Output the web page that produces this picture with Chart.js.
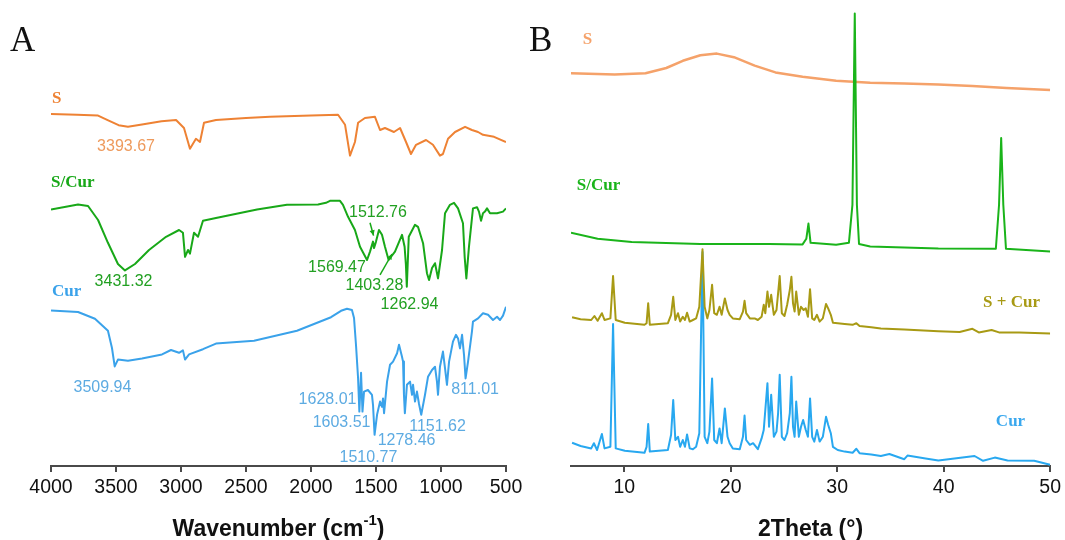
<!DOCTYPE html>
<html>
<head>
<meta charset="utf-8">
<script src="https://cdn.jsdelivr.net/npm/chart.js@4"></script>
<style>
  html, body { margin: 0; padding: 0; background: #fff; }
  #wrap { position: relative; width: 1065px; height: 540px; overflow: hidden; }
  canvas { position: absolute; top: 0; }
  #ftirChart { left: 0; }
  #xrdChart { left: 530px; }
  .panel { position: absolute; top: 22px; font: 35px 'Liberation Serif', serif; line-height: 1; color: #111; }
</style>
</head>
<body>
<div id="wrap">
  <canvas id="ftirChart" width="530" height="540"></canvas>
  <canvas id="xrdChart" width="535" height="540"></canvas>
  <div class="panel" style="left:10px">A</div>
  <div class="panel" style="left:529px">B</div>
</div>
<script>
// 刻度
const ftirTicks = [4000, 3500, 3000, 2500, 2000, 1500, 1000, 500];
const xrdTicks = [10, 20, 30, 40, 50];

// FTIR 光谱 [波数, 强度(a.u., 含偏移)]
const ftirS = [
  [4000,88.0],[3800,87.8],[3638,87.6],[3560,86.4],[3480,85.2],[3408,84.8],[3300,85.4],[3150,86.2],
  [3038,86.5],[2977,84.5],[2931,79.3],[2885,81.8],[2854,81.0],[2823,85.8],[2731,86.5],[2500,87.0],
  [2315,87.3],[2000,87.6],[1792,87.8],[1738,85.3],[1700,77.6],[1662,81.0],[1638,85.8],[1585,87.0],
  [1508,87.3],[1469,84.0],[1431,84.5],[1362,83.5],[1315,84.5],[1269,81.0],[1231,78.0],[1192,80.3],
  [1115,81.5],[1062,80.3],[1008,77.6],[985,78.0],[946,81.8],[892,83.5],[815,84.8],[762,84.0],
  [715,83.5],[677,82.8],[592,82.3],[500,81.0]
];
const ftirSCur = [
  [4000,64.1],[3792,65.4],[3715,65.0],[3638,61.5],[3562,55.8],[3485,50.5],[3431,48.9],[3354,50.5],
  [3246,54.0],[3115,57.3],[3015,59.0],[2985,58.3],[2969,52.3],[2946,54.0],[2931,53.1],[2900,58.3],
  [2869,57.3],[2831,61.3],[2731,62.0],[2415,64.1],[2185,65.3],[1946,65.4],[1885,65.8],[1854,66.3],
  [1777,66.3],[1754,65.3],[1715,62.3],[1662,59.0],[1623,54.8],[1569,51.5],[1546,53.6],[1523,56.1],
  [1515,54.5],[1500,56.1],[1477,59.0],[1454,57.8],[1431,54.8],[1403,51.5],[1354,53.6],[1300,57.8],
  [1280,54.8],[1270,50.3],[1263,44.8],[1248,57.3],[1200,60.3],[1177,59.8],[1138,55.7],[1108,48.2],
  [1092,46.5],[1069,49.5],[1046,50.7],[1023,46.9],[992,54.0],[969,63.2],[931,65.3],[900,65.8],
  [869,64.4],[831,60.7],[818,52.3],[805,46.9],[785,54.8],[754,64.4],[723,64.7],[708,63.6],
  [692,61.3],[677,63.2],[662,63.6],[646,64.4],[623,63.2],[569,63.2],[523,63.6],[500,64.4]
];
const ftirCur = [
  [4000,38.9],[3792,38.5],[3662,36.8],[3562,33.8],[3531,29.5],[3510,24.9],[3485,26.6],[3408,26.3],
  [3300,26.9],[3146,27.9],[3077,29.0],[3015,28.3],[2985,28.9],[2969,26.6],[2938,27.9],[2831,29.2],
  [2731,30.6],[2438,31.3],[2108,33.8],[1846,37.2],[1769,38.8],[1723,39.3],[1685,39.0],[1669,37.0],
  [1654,30.3],[1638,22.0],[1628,13.6],[1615,23.3],[1604,13.6],[1592,18.6],[1562,19.0],[1531,17.8],
  [1523,15.3],[1511,7.8],[1492,12.8],[1469,16.1],[1454,14.8],[1446,16.9],[1438,13.2],[1415,21.1],
  [1392,25.3],[1369,26.1],[1338,28.2],[1323,30.3],[1300,27.3],[1292,26.1],[1285,17.8],[1278,13.2],
  [1262,20.3],[1238,21.1],[1223,17.8],[1215,20.3],[1200,16.1],[1185,18.6],[1169,15.5],[1152,12.8],
  [1123,17.8],[1100,22.3],[1069,24.0],[1046,24.8],[1031,21.1],[1023,17.8],[1008,24.8],[985,28.6],
  [969,24.4],[954,20.3],[938,26.1],[908,31.1],[885,32.8],[869,31.9],[854,29.4],[838,32.8],
  [823,27.8],[811,21.9],[792,26.1],[762,33.6],[754,36.1],[715,36.9],[677,38.2],[638,37.8],
  [600,36.5],[569,37.3],[546,36.5],[523,37.6],[500,39.8]
];

// XRD 图谱 [2θ, 强度(a.u., 含偏移)]
const xrdS = [
  [5,98.2],[9.1,97.9],[12.0,98.2],[13.95,99.5],[15.5,101.3],[17.15,102.7],[18.7,103.1],[20.3,102.2],
  [22.25,100.1],[24.2,98.4],[26.75,97.3],[29.9,96.3],[33.1,95.8],[36.3,95.6],[39.5,95.4],[42.7,95.0],
  [45.9,94.5],[50,94.0]
];
const xrdSCur = [
  [5,58.3],[7.5,56.8],[10.7,56.0],[17.15,55.5],[23.6,55.5],[26.75,55.4],[27.1,56.8],[27.3,60.6],
  [27.5,55.8],[29.9,55.3],[31.1,55.8],[31.43,65.3],[31.65,113.1],[31.85,65.3],[32.05,55.5],[33.1,54.9],
  [39.5,54.4],[44.9,54.3],[45.2,65.3],[45.4,82.0],[45.6,65.3],[45.85,54.3],[50,53.6]
];
const xrdSPlusCur = [
  [5.1,37.2],[5.9,36.7],[6.9,36.5],[7.2,37.5],[7.5,36.3],[7.9,38.2],[8.15,36.5],[8.7,36.9],
  [8.95,47.5],[9.2,36.5],[10.05,35.8],[11.9,35.3],[12.1,35.7],[12.25,40.7],[12.4,35.3],[14.1,35.7],
  [14.4,37.8],[14.6,42.3],[14.8,36.5],[15.05,38.2],[15.25,36.1],[15.5,37.3],[15.7,36.5],[15.9,38.3],
  [16.15,36.1],[16.45,36.5],[16.75,36.9],[17.05,39.8],[17.35,54.2],[17.55,39.8],[17.8,36.9],[18.0,39.0],
  [18.25,45.3],[18.45,38.2],[18.7,37.8],[18.95,39.8],[19.15,37.8],[19.45,41.9],[19.7,39.0],[19.9,37.8],
  [20.2,36.9],[20.85,36.7],[21.15,38.6],[21.3,41.3],[21.45,38.2],[21.8,36.9],[22.25,36.9],[22.55,36.5],
  [22.9,37.3],[23.1,40.3],[23.25,38.2],[23.45,43.6],[23.6,39.8],[23.8,42.8],[24.05,37.8],[24.3,39.0],
  [24.45,43.2],[24.6,47.5],[24.8,38.2],[25.05,37.5],[25.3,40.3],[25.55,44.0],[25.7,47.3],[25.85,40.7],
  [26.0,38.6],[26.15,43.6],[26.4,37.8],[26.6,39.8],[26.85,39.0],[27.05,39.4],[27.25,37.3],[27.45,44.2],
  [27.65,36.9],[27.85,36.5],[28.1,37.8],[28.35,36.1],[28.65,36.9],[28.95,40.5],[29.15,39.4],[29.4,37.8],
  [29.6,35.8],[30.05,35.7],[30.7,35.5],[31.45,35.3],[31.8,35.7],[32.1,35.0],[33.2,34.7],[34.1,34.4],
  [36.3,34.1],[39.5,33.7],[41.5,33.5],[42.7,34.3],[43.3,33.4],[44.5,34.0],[45.2,33.4],[47.1,33.4],
  [50,33.1]
];
const xrdCur = [
  [5.1,5.8],[5.9,5.0],[6.9,4.4],[7.15,5.7],[7.45,4.0],[7.9,8.0],[8.15,4.4],[8.7,4.8],
  [8.95,35.5],[9.2,4.4],[10.05,3.8],[11.9,3.3],[12.1,4.8],[12.25,10.5],[12.4,3.6],[14.1,4.0],
  [14.4,7.8],[14.6,16.5],[14.8,6.5],[15.05,7.3],[15.25,4.8],[15.5,6.5],[15.7,4.8],[15.9,7.9],
  [16.15,4.4],[16.45,4.2],[16.75,4.8],[17.05,8.2],[17.35,53.5],[17.55,7.3],[17.8,5.7],[18.0,8.6],
  [18.25,21.9],[18.45,6.5],[18.7,5.7],[18.95,9.4],[19.15,5.7],[19.45,14.4],[19.7,7.3],[19.9,5.7],
  [20.2,4.4],[20.85,4.2],[21.15,7.3],[21.3,12.6],[21.45,6.5],[21.8,5.3],[22.1,5.7],[22.55,4.2],
  [22.9,6.9],[23.1,9.0],[23.45,20.7],[23.6,9.8],[23.8,17.8],[24.05,7.3],[24.3,8.6],[24.45,13.2],
  [24.6,22.8],[24.8,7.3],[25.05,6.5],[25.3,8.2],[25.55,13.2],[25.7,22.3],[25.85,9.8],[26.0,7.3],
  [26.15,16.1],[26.4,7.3],[26.6,9.8],[26.8,11.5],[27.05,9.0],[27.25,7.3],[27.45,16.9],[27.65,7.3],
  [27.85,6.1],[28.1,9.0],[28.35,6.1],[28.65,7.3],[28.95,12.3],[29.15,10.3],[29.4,8.2],[29.6,4.8],
  [30.05,4.0],[30.7,3.6],[31.45,3.3],[31.8,4.3],[32.1,3.2],[33.2,2.9],[34.1,2.5],[34.9,3.0],
  [36.3,1.7],[36.6,2.6],[38.3,1.9],[39.5,1.4],[42.9,2.5],[43.7,1.3],[44.8,2.1],[46.0,1.4],
  [48.5,1.3],[50,0.3]
];

const numFont = "'Liberation Sans', Arial, sans-serif";
const tagFont = "bold 17px 'Liberation Serif', serif";
const noteFont = "16px 'Liberation Sans', Arial, sans-serif";

// 文字标注 / 箭头 / 轴标题
const notesPlugin = {
  id: 'notes',
  afterDatasetsDraw(chart, args, opts) {
    const { ctx, chartArea } = chart;
    const sx = chart.scales.x, sy = chart.scales.y;
    ctx.save();
    ctx.textBaseline = 'middle';
    (opts.items || []).forEach(it => {
      ctx.font = it.font;
      ctx.fillStyle = it.color;
      ctx.textAlign = it.align || 'center';
      ctx.fillText(it.text, sx.getPixelForValue(it.x), sy.getPixelForValue(it.y));
    });
    (opts.arrows || []).forEach(a => {
      const x1 = sx.getPixelForValue(a.from[0]), y1 = sy.getPixelForValue(a.from[1]);
      const x2 = sx.getPixelForValue(a.to[0]), y2 = sy.getPixelForValue(a.to[1]);
      ctx.strokeStyle = a.color; ctx.fillStyle = a.color; ctx.lineWidth = 1.5;
      ctx.beginPath(); ctx.moveTo(x1, y1); ctx.lineTo(x2, y2); ctx.stroke();
      const ang = Math.atan2(y2 - y1, x2 - x1);
      ctx.beginPath();
      ctx.moveTo(x2, y2);
      ctx.lineTo(x2 - 6 * Math.cos(ang - 0.45), y2 - 6 * Math.sin(ang - 0.45));
      ctx.lineTo(x2 - 6 * Math.cos(ang + 0.45), y2 - 6 * Math.sin(ang + 0.45));
      ctx.closePath(); ctx.fill();
    });
    if (opts.title) {
      const parts = opts.title;
      const big = "bold 23px " + numFont, small = "bold 15px " + numFont;
      let w = 0;
      parts.forEach(p => { ctx.font = p.sup ? small : big; w += ctx.measureText(p.text).width; });
      let x = (chartArea.left + chartArea.right) / 2 - w / 2;
      const y = opts.titleY;
      ctx.fillStyle = '#111';
      ctx.textAlign = 'left';
      parts.forEach(p => {
        ctx.font = p.sup ? small : big;
        ctx.fillText(p.text, x, p.sup ? y - 9 : y);
        x += ctx.measureText(p.text).width;
      });
    }
    ctx.restore();
  }
};

function line(data, color, order, width) {
  return { data, borderColor: color, borderWidth: width || 2, pointRadius: 0, tension: 0,
           fill: false, order, borderJoinStyle: 'round' };
}

function axisX(min, max, ticks, reverse) {
  return {
    type: 'linear', min, max, reverse,
    afterBuildTicks: s => { s.ticks = ticks.map(v => ({ value: v })); },
    afterFit: s => { s.height = 74; },
    border: { display: true, color: '#4a4a4a', width: 2 },
    grid: { display: true, drawOnChartArea: false, drawTicks: true, tickLength: 6, color: '#4a4a4a', lineWidth: 2 },
    ticks: { color: '#111', font: { family: numFont, size: 19.5 }, padding: 4, maxRotation: 0,
             autoSkip: false, callback: v => String(v) }
  };
}

const axisY = { type: 'linear', display: false, min: 0, max: 114 };

// A: FTIR
new Chart(document.getElementById('ftirChart'), {
  type: 'line',
  data: {
    datasets: [
      line(ftirS, '#EE8234', 1),
      line(ftirSCur, '#18A818', 2),
      line(ftirCur, '#3AA2EA', 3)
    ]
  },
  options: {
    responsive: false, animation: false, devicePixelRatio: 1,
    layout: { padding: { left: 51, right: 24, top: 10, bottom: 0 } },
    scales: { x: axisX(500, 4000, ftirTicks, true), y: axisY },
    plugins: {
      legend: { display: false }, tooltip: { enabled: false },
      notes: {
        items: [
          { text: 'S', x: 3992, y: 91.8, color: '#EE8234', font: tagFont, align: 'left' },
          { text: 'S/Cur', x: 4000, y: 70.9, color: '#18A818', font: tagFont, align: 'left' },
          { text: 'Cur', x: 3992, y: 43.5, color: '#3AA2EA', font: tagFont, align: 'left' },
          { text: '3393.67', x: 3423, y: 79.8, color: '#EE9A5C', font: noteFont },
          { text: '3431.32', x: 3442, y: 46.0, color: '#22A022', font: noteFont },
          { text: '1569.47', x: 1800, y: 49.5, color: '#22A022', font: noteFont },
          { text: '1512.76', x: 1485, y: 63.3, color: '#22A022', font: noteFont },
          { text: '1403.28', x: 1512, y: 45.0, color: '#22A022', font: noteFont },
          { text: '1262.94', x: 1242, y: 40.3, color: '#22A022', font: noteFont },
          { text: '3509.94', x: 3604, y: 19.5, color: '#5DABE2', font: noteFont },
          { text: '1628.01', x: 1873, y: 16.5, color: '#5DABE2', font: noteFont },
          { text: '1603.51', x: 1765, y: 10.8, color: '#5DABE2', font: noteFont },
          { text: '1510.77', x: 1558, y: 2.1, color: '#5DABE2', font: noteFont },
          { text: '1278.46', x: 1265, y: 6.3, color: '#5DABE2', font: noteFont },
          { text: '1151.62', x: 1027, y: 9.8, color: '#5DABE2', font: noteFont },
          { text: '811.01', x: 738, y: 19.0, color: '#5DABE2', font: noteFont }
        ],
        arrows: [
          { from: [1546, 60.8], to: [1519, 57.6], color: '#18A818' },
          { from: [1469, 47.8], to: [1377, 53.0], color: '#18A818' }
        ],
        title: [{ text: 'Wavenumber (cm' }, { text: '-1', sup: true }, { text: ')' }],
        titleY: 530
      }
    }
  },
  plugins: [notesPlugin]
});

// B: XRD
new Chart(document.getElementById('xrdChart'), {
  type: 'line',
  data: {
    datasets: [
      line(xrdS, '#F5A26A', 3, 2.5),
      line(xrdSCur, '#1AB41A', 1),
      line(xrdSPlusCur, '#A89A14', 2),
      line(xrdCur, '#28A8F0', 4)
    ]
  },
  options: {
    responsive: false, animation: false, devicePixelRatio: 1,
    layout: { padding: { left: 41, right: 14, top: 10, bottom: 0 } },
    scales: { x: axisX(5, 50, xrdTicks, false), y: axisY },
    plugins: {
      legend: { display: false }, tooltip: { enabled: false },
      notes: {
        items: [
          { text: 'S', x: 6.1, y: 106.5, color: '#F5A26A', font: tagFont, align: 'left' },
          { text: 'S/Cur', x: 5.55, y: 70.0, color: '#1AB41A', font: tagFont, align: 'left' },
          { text: 'S + Cur', x: 43.7, y: 40.9, color: '#A89A14', font: tagFont, align: 'left' },
          { text: 'Cur', x: 44.9, y: 11.0, color: '#3AA8EE', font: tagFont, align: 'left' }
        ],
        title: [{ text: '2Theta (°)' }],
        titleY: 530
      }
    }
  },
  plugins: [notesPlugin]
});
</script>
</body>
</html>
